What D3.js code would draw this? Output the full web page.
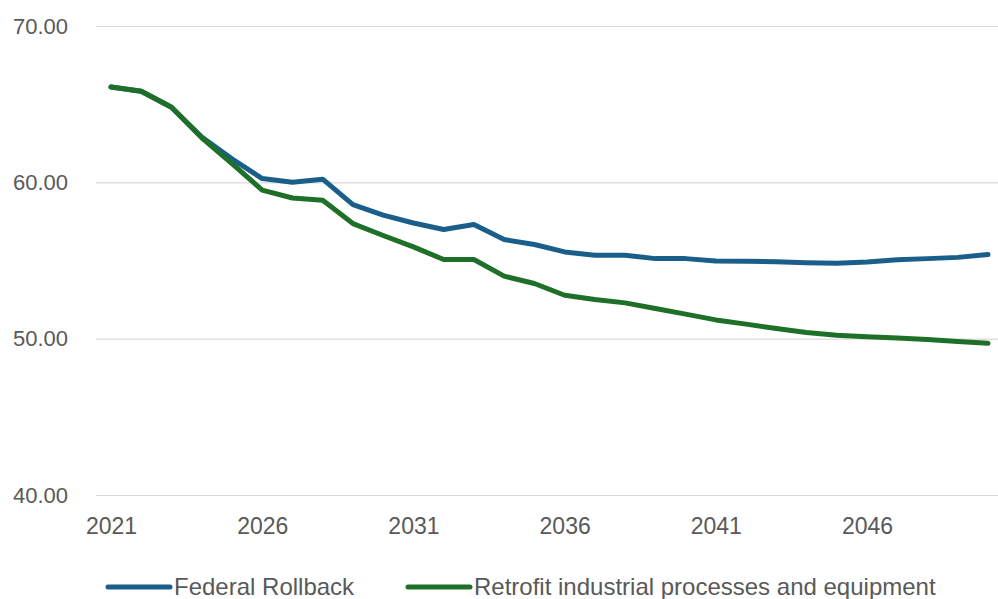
<!DOCTYPE html>
<html>
<head>
<meta charset="utf-8">
<script src="https://cdn.jsdelivr.net/npm/d3@7"></script>
<style>
  html, body { margin: 0; padding: 0; background: #fff; }
  svg { display: block; font-family: "Liberation Sans", Arial, sans-serif; }
</style>
</head>
<body>
<svg id="chart" width="998" height="599"></svg>
<script>
// Years on the category axis
const years = d3.range(2021, 2051);

// Series values, one per year
const federalRollback = [
  66.10, 65.83, 64.80, 62.90, 61.50, 60.24, 60.00, 60.20, 58.57, 57.90,
  57.40, 56.98, 57.30, 56.34, 56.02, 55.55, 55.34, 55.34, 55.12, 55.12,
  54.97, 54.95, 54.92, 54.85, 54.82, 54.90, 55.05, 55.12, 55.20, 55.38
];
const retrofit = [
  66.10, 65.83, 64.80, 62.85, 61.20, 59.50, 59.00, 58.85, 57.36, 56.60,
  55.87, 55.06, 55.06, 54.00, 53.53, 52.78, 52.50, 52.29, 51.93, 51.57,
  51.20, 50.93, 50.65, 50.40, 50.22, 50.12, 50.05, 49.95, 49.82, 49.70
];

const seriesNames = ["Federal Rollback", "Retrofit industrial processes and equipment"];
const seriesColors = ["#1a5f8a", "#1e7029"];

const yTicks = [40, 50, 60, 70];
const xTicks = [2021, 2026, 2031, 2036, 2041, 2046];

const svg = d3.select("#chart");

const plotLeft = 96, plotRight = 998;
const x = d3.scaleLinear().domain([2021, 2050]).range([111, 988]);
const y = d3.scaleLinear().domain([40, 70]).range([495, 26]);

// Horizontal gridlines and value labels
const yAxis = d3.axisLeft(y)
  .tickValues(yTicks)
  .tickFormat(d3.format(".2f"))
  .tickSize(-(plotRight - plotLeft))
  .tickPadding(28);

const gy = svg.append("g")
  .attr("transform", `translate(${plotLeft},0)`)
  .call(yAxis);
gy.select(".domain").remove();
gy.selectAll(".tick line").attr("stroke", "#d9d9d9").attr("stroke-width", 1.2);
gy.selectAll(".tick text")
  .attr("fill", "#595959")
  .style("font-size", "22px");

// Year labels
const xAxis = d3.axisBottom(x)
  .tickValues(xTicks)
  .tickFormat(d3.format("d"))
  .tickSize(0)
  .tickPadding(23);

const gx = svg.append("g")
  .attr("transform", `translate(0,${y(40)})`)
  .call(xAxis);
gx.select(".domain").remove();
gx.selectAll(".tick text")
  .attr("fill", "#595959")
  .style("font-size", "23px");

// Series lines
const line = d3.line()
  .x((d, i) => x(years[i]))
  .y(d => y(d));

[federalRollback, retrofit].forEach((vals, i) => {
  svg.append("path")
    .datum(vals)
    .attr("fill", "none")
    .attr("stroke", seriesColors[i])
    .attr("stroke-width", 5)
    .attr("stroke-linejoin", "round")
    .attr("stroke-linecap", "round")
    .attr("d", line);
});

// Legend
const legendItems = [
  { x: 108, name: seriesNames[0], color: seriesColors[0] },
  { x: 408, name: seriesNames[1], color: seriesColors[1] }
];
const lg = svg.append("g").attr("transform", "translate(0,587)");
legendItems.forEach(it => {
  lg.append("line")
    .attr("x1", it.x).attr("x2", it.x + 62)
    .attr("y1", 0).attr("y2", 0)
    .attr("stroke", it.color)
    .attr("stroke-width", 5)
    .attr("stroke-linecap", "round");
  lg.append("text")
    .attr("x", it.x + 66)
    .attr("y", 0)
    .attr("dy", "0.35em")
    .attr("fill", "#595959")
    .style("font-size", "24px")
    .text(it.name);
});
</script>
</body>
</html>
